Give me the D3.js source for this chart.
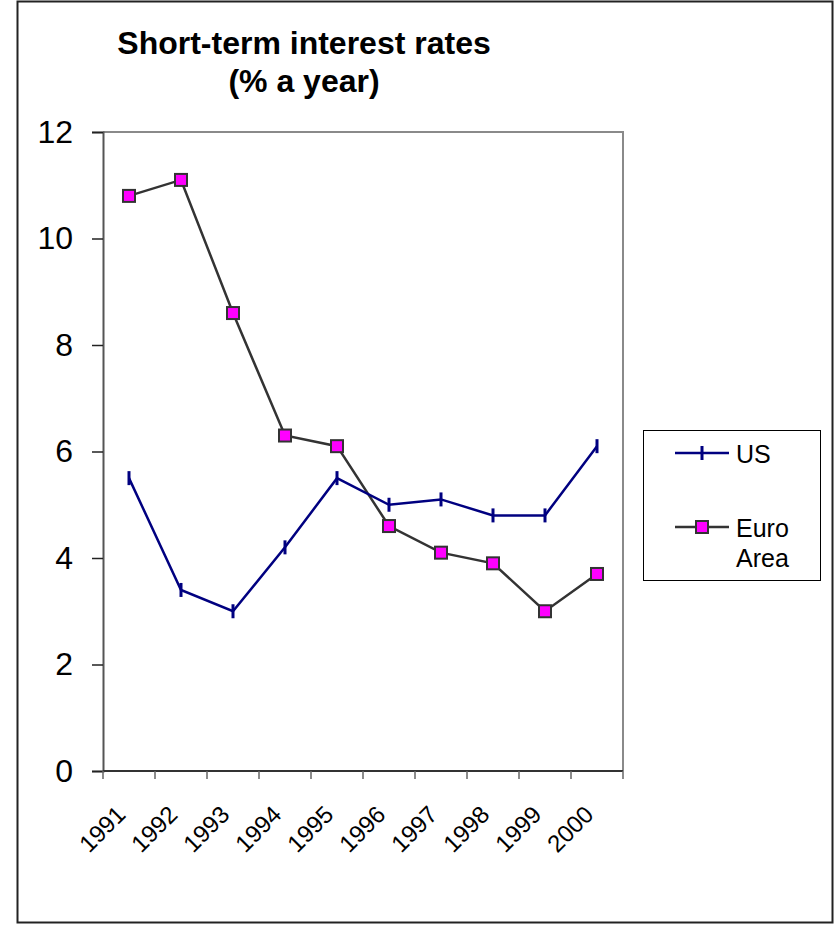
<!DOCTYPE html>
<html>
<head>
<meta charset="utf-8">
<script src="https://cdn.jsdelivr.net/npm/d3@7"></script>
<style>
  html, body { margin: 0; padding: 0; background: #fff; }
  svg { display: block; font-family: "Liberation Sans", Arial, sans-serif; }
</style>
</head>
<body>
<svg id="chart" width="834" height="925"></svg>
<script>
const years = ["1991","1992","1993","1994","1995","1996","1997","1998","1999","2000"];
const usRates = [5.5, 3.4, 3.0, 4.2, 5.5, 5.0, 5.1, 4.8, 4.8, 6.1];
const euroRates = [10.8, 11.1, 8.6, 6.3, 6.1, 4.6, 4.1, 3.9, 3.0, 3.7];
const yTicks = [0, 2, 4, 6, 8, 10, 12];
const titleLines = ["Short-term interest rates", "(% a year)"];
const seriesNames = ["US", "Euro Area"];

const svg = d3.select("#chart");

// outer frame
svg.append("rect")
  .attr("x", 17.5).attr("y", 1.5).attr("width", 815).attr("height", 921)
  .attr("fill", "#fff").attr("stroke", "#222").attr("stroke-width", 2);

const L = 103, R = 623, T = 132, B = 771;
const x = d3.scaleBand().domain(years).range([L, R]);
const y = d3.scaleLinear().domain([0, 12]).range([B, T]);

// title
svg.append("text")
  .attr("x", 304).attr("text-anchor", "middle")
  .attr("font-size", 32).attr("font-weight", "bold")
  .selectAll("tspan").data(titleLines).join("tspan")
  .attr("x", 304).attr("y", (d, i) => 54 + i * 38).text(d => d);

// plot frame: top and right in gray
svg.append("path")
  .attr("d", `M${L},${T}H${R}V${B}`)
  .attr("fill", "none").attr("stroke", "#8a8a8a").attr("stroke-width", 2);

// y axis
const yAxis = d3.axisLeft(y).tickValues(yTicks).tickSize(11).tickPadding(19).tickFormat(d3.format("d"));
const gy = svg.append("g").attr("transform", `translate(${L},0)`).call(yAxis);
gy.select(".domain").attr("stroke", "#555").attr("stroke-width", 2);
gy.selectAll(".tick line").attr("stroke", "#222").attr("stroke-width", 1.5);
gy.selectAll(".tick text").attr("font-size", 32).attr("fill", "#000")
  .attr("font-family", '"Liberation Sans", Arial, sans-serif');

// x axis: ticks at band boundaries
const boundaries = years.map(d => x(d)).concat([x(years[years.length - 1]) + x.bandwidth()]);
const gx = svg.append("g");
gx.append("line").attr("x1", L).attr("x2", R).attr("y1", B).attr("y2", B)
  .attr("stroke", "#333").attr("stroke-width", 2);
gx.selectAll("line.tk").data(boundaries).join("line").attr("class", "tk")
  .attr("x1", d => d).attr("x2", d => d).attr("y1", B).attr("y2", B + 8)
  .attr("stroke", "#666").attr("stroke-width", 1.5);
gx.selectAll("text").data(years).join("text")
  .attr("transform", d => `translate(${x(d) + x.bandwidth() / 2 - 8},${B + 39}) rotate(-45)`)
  .attr("text-anchor", "end").attr("dy", "0.35em")
  .attr("font-size", 24).attr("fill", "#000").text(d => d);

const cx = d => x(d) + x.bandwidth() / 2;
const line = d3.line();

// Euro line
const euroPts = years.map((d, i) => [cx(d), y(euroRates[i])]);
svg.append("path").attr("d", line(euroPts)).attr("fill", "none")
  .attr("stroke", "#333").attr("stroke-width", 2.5);

// US line
const usPts = years.map((d, i) => [cx(d), y(usRates[i])]);
svg.append("path").attr("d", line(usPts)).attr("fill", "none")
  .attr("stroke", "#000080").attr("stroke-width", 2.5);
svg.selectAll("line.usm").data(usPts).join("line").attr("class", "usm")
  .attr("x1", d => d[0]).attr("x2", d => d[0])
  .attr("y1", d => d[1] - 7).attr("y2", d => d[1] + 7)
  .attr("stroke", "#000080").attr("stroke-width", 3);

// Euro markers
svg.selectAll("rect.em").data(euroPts).join("rect").attr("class", "em")
  .attr("x", d => d[0] - 6).attr("y", d => d[1] - 6)
  .attr("width", 12).attr("height", 12)
  .attr("fill", "#ff00ff").attr("stroke", "#333").attr("stroke-width", 2);

// legend
const lg = svg.append("g");
lg.append("rect").attr("x", 643.5).attr("y", 430.5).attr("width", 177).attr("height", 150)
  .attr("fill", "#fff").attr("stroke", "#000").attr("stroke-width", 1);
// US
lg.append("line").attr("x1", 675).attr("x2", 729).attr("y1", 453).attr("y2", 453)
  .attr("stroke", "#000080").attr("stroke-width", 2.5);
lg.append("line").attr("x1", 702).attr("x2", 702).attr("y1", 446).attr("y2", 460)
  .attr("stroke", "#000080").attr("stroke-width", 3);
lg.append("text").attr("x", 736).attr("y", 463).attr("font-size", 25).text(seriesNames[0]);
// Euro
lg.append("line").attr("x1", 675).attr("x2", 729).attr("y1", 527).attr("y2", 527)
  .attr("stroke", "#333").attr("stroke-width", 2.5);
lg.append("rect").attr("x", 696).attr("y", 521).attr("width", 12).attr("height", 12)
  .attr("fill", "#ff00ff").attr("stroke", "#333").attr("stroke-width", 2);
const eText = lg.append("text").attr("font-size", 25);
eText.append("tspan").attr("x", 736).attr("y", 537).text("Euro");
eText.append("tspan").attr("x", 736).attr("y", 567).text("Area");
</script>
</body>
</html>
